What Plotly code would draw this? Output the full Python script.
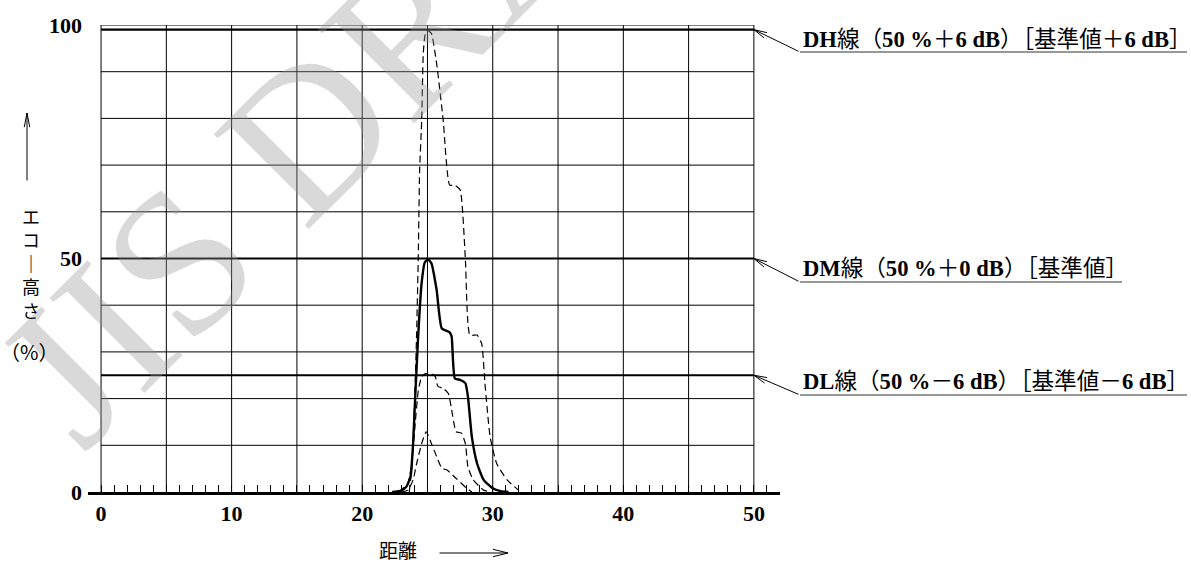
import math
import plotly.graph_objects as go

# ---------------- data ----------------
x_ref = [22.3, 23.0, 23.4, 23.7, 23.9, 24.05, 24.3, 24.55, 24.8, 25.05, 25.3, 25.7, 26.1,
         26.7, 26.85, 27.1, 27.5, 27.9, 28.1, 28.4, 28.8, 29.3, 30.0, 30.6, 31.2]
y_ref = [0, 0.3, 1.2, 3.3, 10.4, 19.7, 34, 44.7, 49.2, 49.8, 49, 43.3, 35,
         34.2, 33.3, 24.3, 24, 23.3, 20.4, 11.8, 6.1, 2.6, 0.8, 0.2, 0]

x_hi = [23.6, 23.8, 24.0, 24.17, 24.3, 24.4, 24.56, 24.68, 24.85, 25.05, 25.3, 25.7, 26.2,
        26.7, 27.1, 27.5, 27.9, 28.25, 28.8, 29.15, 29.4, 29.8, 30.3, 31.1, 32.0]
y_hi = [0, 5, 18, 34, 51, 69, 79.7, 94, 98.3, 98.8, 98.2, 91.8, 79.7,
        65.7, 65.7, 64.7, 50, 33.6, 33.6, 31.8, 23.3, 11.8, 6.1, 2.6, 0.3]

x_lo = [22.8, 23.5, 23.8, 24.04, 24.3, 24.56, 24.8, 25.05, 25.4, 25.6, 25.8, 26.2, 26.6,
        26.85, 27.2, 27.6, 27.9, 28.1, 28.5, 29.3, 29.8]
y_lo = [0, 1.9, 6.1, 14, 21.8, 24.7, 25.3, 25.4, 25.2, 24.7, 22.6, 22.2, 21.1,
        17.6, 12.9, 12.6, 10.4, 5.4, 2.6, 0.4, 0]

x_min = [23.0, 23.5, 23.9, 24.17, 24.56, 24.9, 25.2, 25.7, 26.1, 26.5, 27.2, 28.0, 28.4]
y_min = [0, 0.4, 2.6, 6.1, 10.4, 12.9, 11.1, 7.6, 5.1, 4.7, 2.9, 0.8, 0]

ref_levels = [99, 50, 25]          # DH, DM, DL lines
ref_labels = [
    "<b>DH</b>線（<b>50 %</b>＋<b>6 dB</b>）［基準値＋<b>6 dB</b>］",
    "<b>DM</b>線（<b>50 %</b>＋<b>0 dB</b>）［基準値］",
    "<b>DL</b>線（<b>50 %</b>－<b>6 dB</b>）［基準値－<b>6 dB</b>］",
]
x_tick_vals = list(range(-1, 52))
x_tick_text = [str(v) if v % 10 == 0 and 0 <= v <= 50 else "" for v in x_tick_vals]
y_tick_vals = [0, 50, 100]
y_tick_text = ["0", "50", "100"]
x_grid = list(range(0, 51, 5))
y_grid = list(range(10, 101, 10))
y_title = "エ<br>コ<br>｜<br>高<br>さ"

SERIF = "Liberation Serif, Noto Sans CJK JP"
CJK = "Noto Sans CJK JP"

# ---------------- layout geometry ----------------
W, H = 1191, 564
ML, MR, MT, MB = 88, 411, 25, 72
PW, PH = W - ML - MR, H - MT - MB


def paper(px, py):
    return (px - ML) / PW, (H - MB - py) / PH


fig = go.Figure()

for xs, ys, w, dash in [
    (x_hi, y_hi, 1.2, "7px,4px"),
    (x_lo, y_lo, 1.2, "7px,4px"),
    (x_min, y_min, 1.2, "7px,4px"),
    (x_ref, y_ref, 2.4, "solid"),
]:
    fig.add_trace(go.Scatter(x=xs, y=ys, mode="lines",
                             line=dict(color="black", width=w, dash=dash, shape="spline", smoothing=0.5),
                             hoverinfo="skip", showlegend=False))

shapes = []
for gx in x_grid:
    shapes.append(dict(type="line", xref="x", yref="y", x0=gx, x1=gx, y0=0, y1=100,
                       line=dict(color="black", width=1), layer="below"))
for gy in y_grid:
    shapes.append(dict(type="line", xref="x", yref="y", x0=0, x1=50, y0=gy, y1=gy,
                       line=dict(color="black", width=1), layer="below"))
for lv in ref_levels:
    shapes.append(dict(type="line", xref="x", yref="y", x0=0, x1=50, y0=lv, y1=lv,
                       line=dict(color="black", width=2.2), layer="below"))

annotations = []


def open_arrow(xref, yref, x, y, ax, ay, arm=15, spread=13, width=1.0):
    annotations.append(dict(xref=xref, yref=yref, x=x, y=y, ax=ax, ay=ay, text="",
                            showarrow=True, arrowhead=0, arrowwidth=width, arrowcolor="black"))
    ang = math.atan2(ay, ax)
    for s in (-1, 1):
        a = ang + s * math.radians(spread)
        annotations.append(dict(xref=xref, yref=yref, x=x, y=y,
                                ax=arm * math.cos(a), ay=arm * math.sin(a), text="",
                                showarrow=True, arrowhead=0, arrowwidth=width, arrowcolor="black"))


# watermark
wx, wy = paper(382, 58)
annotations.append(dict(xref="paper", yref="paper", x=wx, y=wy, xanchor="center", yanchor="middle",
                        text="JIS DRAFT", textangle=-45, showarrow=False,
                        font=dict(family="Liberation Serif", size=205, color="rgba(150,150,150,0.36)")))

# right-hand labels for the reference lines
label_y_px = [39, 268, 381]
under_y_px = [52, 282, 395]
under_x1_px = [1187, 1122, 1187]
x50_px = ML + PW * 51 / 53
for lv, lab, ty, uy, ux1 in zip(ref_levels, ref_labels, label_y_px, under_y_px, under_x1_px):
    tx, typ = paper(801, ty)
    annotations.append(dict(xref="paper", yref="paper", x=tx, y=typ, xanchor="left", yanchor="middle",
                            text=lab, showarrow=False, font=dict(family=SERIF, size=22.6, color="black")))
    ux0, uyp = paper(800, uy)
    ux1p, _ = paper(ux1, uy)
    shapes.append(dict(type="line", xref="paper", yref="paper", x0=ux0, x1=ux1p, y0=uyp, y1=uyp,
                       line=dict(color="#333333", width=1.2)))
    head_py = H - MB - lv / 100 * PH
    open_arrow("x", "y", 50, lv, 800 - x50_px, uy - head_py, arm=15, spread=13)

# y-axis title (vertical writing)
cx, cyp = paper(31, 263)
annotations.append(dict(xref="paper", yref="paper", x=cx, y=cyp, xanchor="center", yanchor="middle",
                        text=y_title, showarrow=False, font=dict(family=CJK, size=18, color="black")))
px_, py_ = paper(29, 351)
annotations.append(dict(xref="paper", yref="paper", x=px_, y=py_, xanchor="center", yanchor="middle",
                        text="（%）", showarrow=False, font=dict(family=CJK, size=20, color="black")))
hx, hy = paper(27, 113)
open_arrow("paper", "paper", hx, hy, 0, 69, arm=16, spread=11)

# x-axis title
tx, ty = paper(398, 549)
annotations.append(dict(xref="paper", yref="paper", x=tx, y=ty, xanchor="center", yanchor="middle",
                        text="距離", showarrow=False, font=dict(family=CJK, size=19, color="black")))
hx, hy = paper(508, 553)
open_arrow("paper", "paper", hx, hy, -70, 0, arm=17, spread=14)

fig.update_layout(
    width=W, height=H,
    margin=dict(l=ML, r=MR, t=MT, b=MB, pad=0, autoexpand=False),
    paper_bgcolor="white", plot_bgcolor="white",
    showlegend=False,
    shapes=shapes, annotations=annotations,
    xaxis=dict(range=[-1, 52], tickmode="array", tickvals=x_tick_vals, ticktext=x_tick_text,
               ticks="inside", ticklen=7, tickwidth=1, tickcolor="black",
               showline=True, linecolor="black", linewidth=2.5, automargin=False,
               showgrid=False, zeroline=False, ticklabelstandoff=0,
               tickfont=dict(family="Liberation Serif", size=22, color="black", weight="bold")),
    yaxis=dict(range=[0, 100], tickmode="array", tickvals=y_tick_vals, ticktext=y_tick_text,
               ticks="", showline=False, showgrid=False, zeroline=False, ticklabelstandoff=5,
               automargin=False,
               tickfont=dict(family="Liberation Serif", size=22, color="black", weight="bold")),
)

fig.write_html("out.html", config={"displayModeBar": False},
               post_script="document.body.style.margin='0px';")
